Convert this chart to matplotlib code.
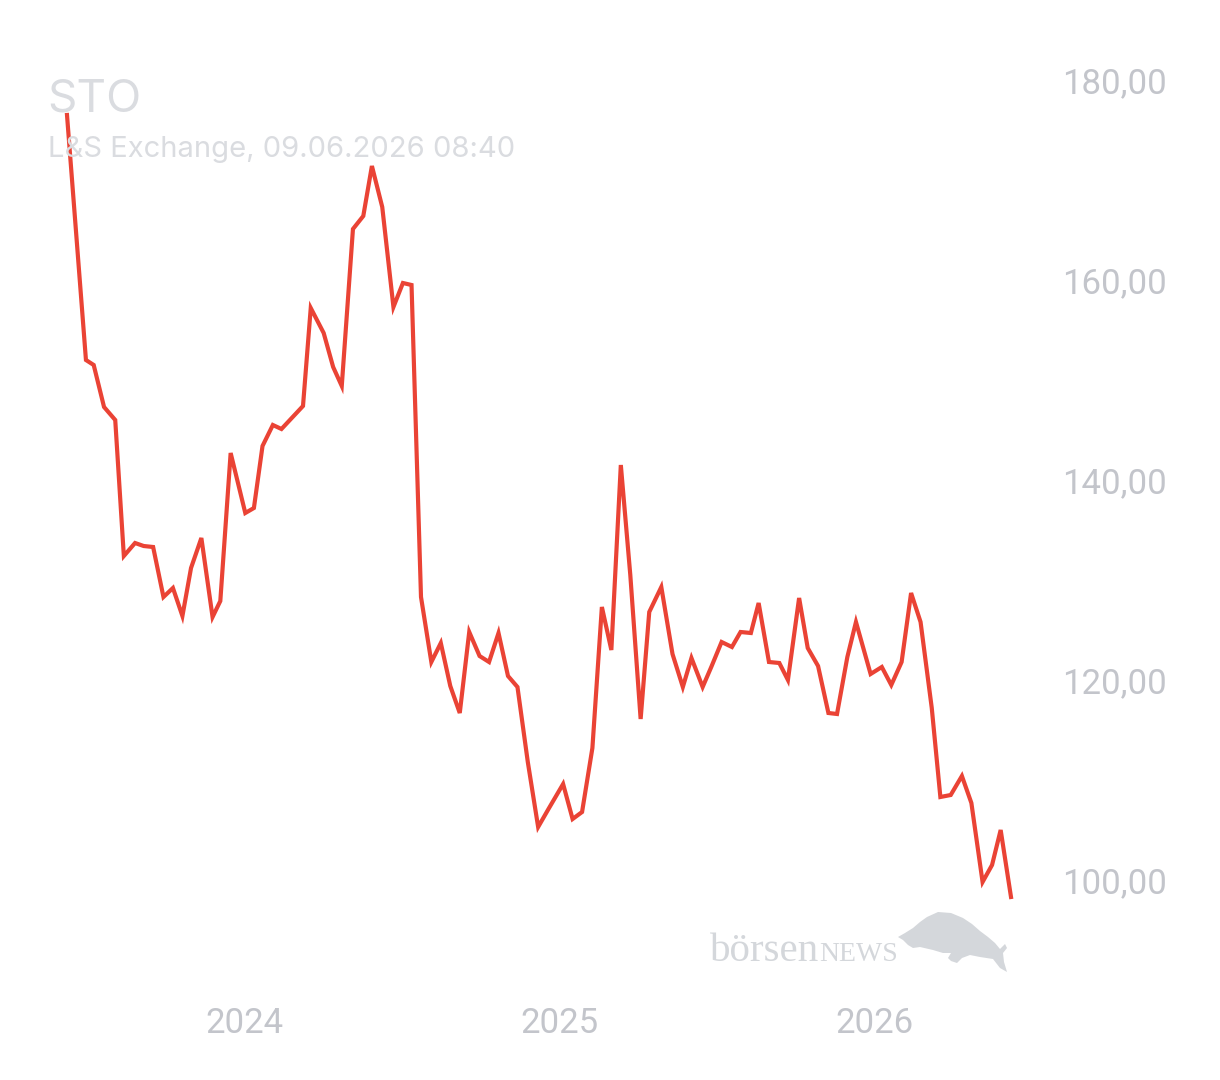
#! /usr/bin/env python3

import numpy as np
import matplotlib
matplotlib.use('Agg')
import matplotlib.pyplot as plt
import matplotlib.dates as mdates
from matplotlib.patches import Polygon
from matplotlib.ticker import FuncFormatter, FixedLocator

# price data, L&S Exchange, STO
dates = np.array([
    '2023-06-09', '2023-07-01', '2023-07-10', '2023-07-22', '2023-08-04', '2023-08-14',
    '2023-08-27', '2023-09-06', '2023-09-17', '2023-09-29', '2023-10-10', '2023-10-21',
    '2023-10-31', '2023-11-12', '2023-11-25', '2023-12-04', '2023-12-16', '2024-01-02',
    '2024-01-12', '2024-01-22', '2024-02-03', '2024-02-13', '2024-03-09', '2024-03-18',
    '2024-04-02', '2024-04-13', '2024-04-23', '2024-05-06', '2024-05-18', '2024-05-28',
    '2024-06-09', '2024-06-22', '2024-07-03', '2024-07-13', '2024-07-24', '2024-08-05',
    '2024-08-16', '2024-08-27', '2024-09-07', '2024-09-18', '2024-09-30', '2024-10-11',
    '2024-10-22', '2024-11-02', '2024-11-13', '2024-11-25', '2024-12-07', '2024-12-19',
    '2025-01-05', '2025-01-16', '2025-01-27', '2025-02-08', '2025-02-19', '2025-03-02',
    '2025-03-13', '2025-03-24', '2025-04-05', '2025-04-15', '2025-04-29', '2025-05-12',
    '2025-05-24', '2025-06-03', '2025-06-16', '2025-06-26', '2025-07-08', '2025-07-20',
    '2025-07-30', '2025-08-11', '2025-08-20', '2025-09-01', '2025-09-13', '2025-09-23',
    '2025-10-06', '2025-10-16', '2025-10-28', '2025-11-09', '2025-11-19', '2025-12-01',
    '2025-12-11', '2025-12-28', '2026-01-10', '2026-01-21', '2026-02-02', '2026-02-13',
    '2026-02-24', '2026-03-09', '2026-03-19', '2026-03-31', '2026-04-13', '2026-04-24',
    '2026-05-07', '2026-05-18', '2026-05-28', '2026-06-09'], dtype='datetime64[D]')
prices = [
    176.5, 152.0, 151.5, 147.3, 146.0, 132.4,
    133.7, 133.4, 133.3, 128.3, 129.2, 126.4,
    131.2, 134.2, 126.3, 127.9, 142.7, 136.7,
    137.2, 143.4, 145.5, 145.1, 147.4, 157.2,
    154.7, 151.3, 149.4, 165.1, 166.4, 171.4,
    167.3, 157.3, 159.7, 159.5, 128.3, 121.8,
    123.7, 119.4, 116.7, 124.8, 122.4, 121.8,
    124.7, 120.4, 119.3, 111.8, 105.3, 107.1,
    109.6, 106.1, 106.8, 113.2, 127.3, 123.0,
    141.5, 130.5, 116.1, 126.8, 129.3, 122.6,
    119.3, 122.2, 119.3, 121.3, 123.8, 123.3,
    124.8, 124.7, 127.7, 121.8, 121.7, 120.0,
    128.2, 123.2, 121.4, 116.7, 116.6, 122.3,
    125.8, 120.6, 121.3, 119.5, 121.8, 128.7,
    125.8, 117.2, 108.3, 108.5, 110.4, 107.7,
    99.8, 101.5, 105.0, 98.3]
y_ticks = [100, 120, 140, 160, 180]
title = 'STO'
subtitle = 'L&S Exchange, 09.06.2026 08:40'

grey_text = '#c3c5cb'
grey_light = '#dadce0'
red = '#ea4335'
wm = '#d4d7db'

fig = plt.figure(figsize=(12.2, 10.8), dpi=100)
ax = fig.add_axes([67/1220, 90/1080, 944/1220, 950/1080])

ax.plot(dates.astype('datetime64[ms]').astype(object), prices, color=red, lw=3,
        solid_joinstyle='miter', clip_on=False)

ax.set_xlim(dates[0].astype(object), dates[-1].astype(object))
ax.set_ylim(89, 184)

for s in ax.spines.values():
    s.set_visible(False)

ax.xaxis.set_major_locator(mdates.YearLocator())
ax.xaxis.set_major_formatter(mdates.DateFormatter('%Y'))
ax.yaxis.set_major_locator(FixedLocator(y_ticks))
ax.yaxis.set_major_formatter(FuncFormatter(lambda v, p: f"{v:.2f}".replace('.', ',')))
ax.yaxis.tick_right()
ax.tick_params(axis='both', length=0, labelsize=25, labelcolor=grey_text)
ax.tick_params(axis='y', pad=37)
ax.tick_params(axis='x', pad=12)
for lbl in ax.get_xticklabels() + ax.get_yticklabels():
    lbl.set_fontfamily('Roboto')

# header
fig.text(47/1220, 1 - 112/1080, title, fontsize=33, color=grey_light,
         family='Inter', ha='left', va='baseline')
fig.text(48/1220, 1 - 157/1080, subtitle, fontsize=21, color=grey_light,
         family='Inter', ha='left', va='baseline')

# watermark
fig.text(710/1220, 1 - 961/1080, 'börsen', fontsize=29.5, color=wm,
         family='Liberation Serif', ha='left', va='baseline')
fig.text(819/1220, 1 - 961/1080, 'NEWS', fontsize=20, color=wm,
         family='Liberation Serif', ha='left', va='baseline')
bull = [(898, 937), (905, 933), (913, 928), (920, 922), (927, 917), (938, 912),
        (951, 913), (963, 918), (972, 924), (980, 931), (988, 937), (995, 943),
        (1000, 949), (1005, 944), (1007, 948), (1003, 953), (1004, 962), (1007, 972),
        (1000, 968), (993, 959), (980, 957), (970, 955), (962, 958), (957, 963),
        (951, 961), (948, 958), (951, 953), (943, 953), (933, 950), (920, 947),
        (913, 948), (908, 945), (903, 940)]
fig.patches.append(Polygon([(x/1220, 1 - y/1080) for x, y in bull], closed=True,
                           transform=fig.transFigure, facecolor=wm, edgecolor='none'))

plt.savefig('out.png', dpi=100, facecolor='white')
